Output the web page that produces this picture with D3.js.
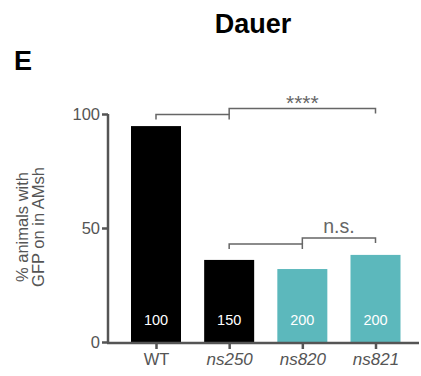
<!DOCTYPE html>
<html>
<head>
<meta charset="utf-8">
<script src="https://cdn.jsdelivr.net/npm/d3@7"></script>
<style>
  html, body { margin: 0; padding: 0; background: #fff; }
  svg { display: block; font-family: "Liberation Sans", Arial, Helvetica, sans-serif; }
</style>
</head>
<body>
<svg id="chart" width="421" height="376"></svg>
<script>
// Strains, percentages and animal counts
const strains = ["WT", "ns250", "ns820", "ns821"];
const percentOn = [94.7, 36, 32, 38.2];
const animalCounts = [100, 150, 200, 200];
const barColors = ["#000000", "#000000", "#5cb8bc", "#5cb8bc"];
const yTicks = [0, 50, 100];

// Significance comparisons
const comparisons = [
  { group: ["WT", "ns250"], target: "ns821", label: "****" },
  { group: ["ns250", "ns820"], target: "ns821", label: "n.s." }
];

const svg = d3.select("#chart");
const axisColor = "#555";

const x = d3.scalePoint().domain(strains).range([156, 375.5]);
const y = d3.scaleLinear().domain([0, 100]).range([342, 114]);
const barWidth = 50;

// Title and panel letter
svg.append("text").attr("x", 253).attr("y", 33).attr("text-anchor", "middle")
  .attr("font-size", 27).attr("font-weight", "bold").attr("fill", "#000").text("Dauer");
svg.append("text").attr("x", 14).attr("y", 70)
  .attr("font-size", 27).attr("font-weight", "bold").attr("fill", "#000").text("E");

// Bars
const bars = strains.map((s, i) => ({ s, v: percentOn[i], n: animalCounts[i], c: barColors[i] }));
svg.selectAll("rect.bar").data(bars).enter().append("rect")
  .attr("class", "bar")
  .attr("x", d => x(d.s) - barWidth / 2)
  .attr("width", barWidth)
  .attr("y", d => y(d.v))
  .attr("height", d => y(0) - y(d.v))
  .attr("fill", d => d.c);

svg.selectAll("text.count").data(bars).enter().append("text")
  .attr("class", "count")
  .attr("x", d => x(d.s))
  .attr("y", 325)
  .attr("text-anchor", "middle")
  .attr("font-size", 14.5)
  .attr("fill", "#fff")
  .text(d => d.n);

// Y axis
const yAxis = d3.axisLeft(y).tickValues(yTicks).tickSize(6).tickPadding(2);
const gy = svg.append("g").attr("transform", "translate(108,0)").call(yAxis);
gy.select(".domain").attr("stroke", axisColor).attr("stroke-width", 2.5)
  .attr("d", `M0,${y(100)}V${y(0) + 1}`);
gy.selectAll(".tick line").attr("stroke", axisColor).attr("stroke-width", 2.5);
gy.selectAll(".tick text").attr("fill", axisColor).attr("font-size", 16.5)
  .attr("font-family", "'Liberation Sans', Arial, sans-serif");

// X axis
const xAxis = d3.axisBottom(x).tickSize(6).tickPadding(4);
const gx = svg.append("g").attr("transform", `translate(0,${y(0) + 1})`).call(xAxis);
gx.select(".domain").attr("stroke", axisColor).attr("stroke-width", 2.5)
  .attr("d", "M107,0H419");
gx.selectAll(".tick line").attr("stroke", axisColor).attr("stroke-width", 2.5);
gx.selectAll(".tick text").attr("fill", axisColor)
  .attr("font-size", d => d === "WT" ? 16.5 : 17)
  .attr("font-family", "'Liberation Sans', Arial, sans-serif")
  .attr("font-style", d => d === "WT" ? "normal" : "italic");

// Y axis title
const yTitle = svg.append("text")
  .attr("transform", "translate(0,227) rotate(-90)")
  .attr("text-anchor", "middle")
  .attr("fill", axisColor)
  .attr("font-size", 16.5);
yTitle.append("tspan").attr("x", 0).attr("y", 28).text("% animals with");
yTitle.append("tspan").attr("x", 0).attr("y", 43.5).text("GFP on in AMsh");

// Significance brackets
const bracketColor = "#666";
const bracketSpecs = [
  { lowY: 114.5, highY: 108.5, drop: 5, textY: 110, fs: 21 },
  { lowY: 244, highY: 238, drop: 5, textY: 233, fs: 19.5 }
];
comparisons.forEach((c, i) => {
  const spec = bracketSpecs[i];
  const x0 = x(c.group[0]), x1 = x(c.group[1]), x2 = x(c.target);
  const g = svg.append("g").attr("fill", "none").attr("stroke", bracketColor).attr("stroke-width", 1.5);
  // lower bracket joining the pair
  g.append("path").attr("d",
    `M${x0},${spec.lowY + spec.drop}V${spec.lowY}H${x1}V${spec.lowY + spec.drop}`);
  // upper bracket to the compared strain
  g.append("path").attr("d",
    `M${x1},${spec.lowY}V${spec.highY}H${x2}V${spec.highY + spec.drop}`);
  svg.append("text")
    .attr("x", (x1 + x2) / 2)
    .attr("y", spec.textY)
    .attr("text-anchor", "middle")
    .attr("fill", bracketColor)
    .attr("font-size", spec.fs)
    .text(c.label);
});
</script>
</body>
</html>
